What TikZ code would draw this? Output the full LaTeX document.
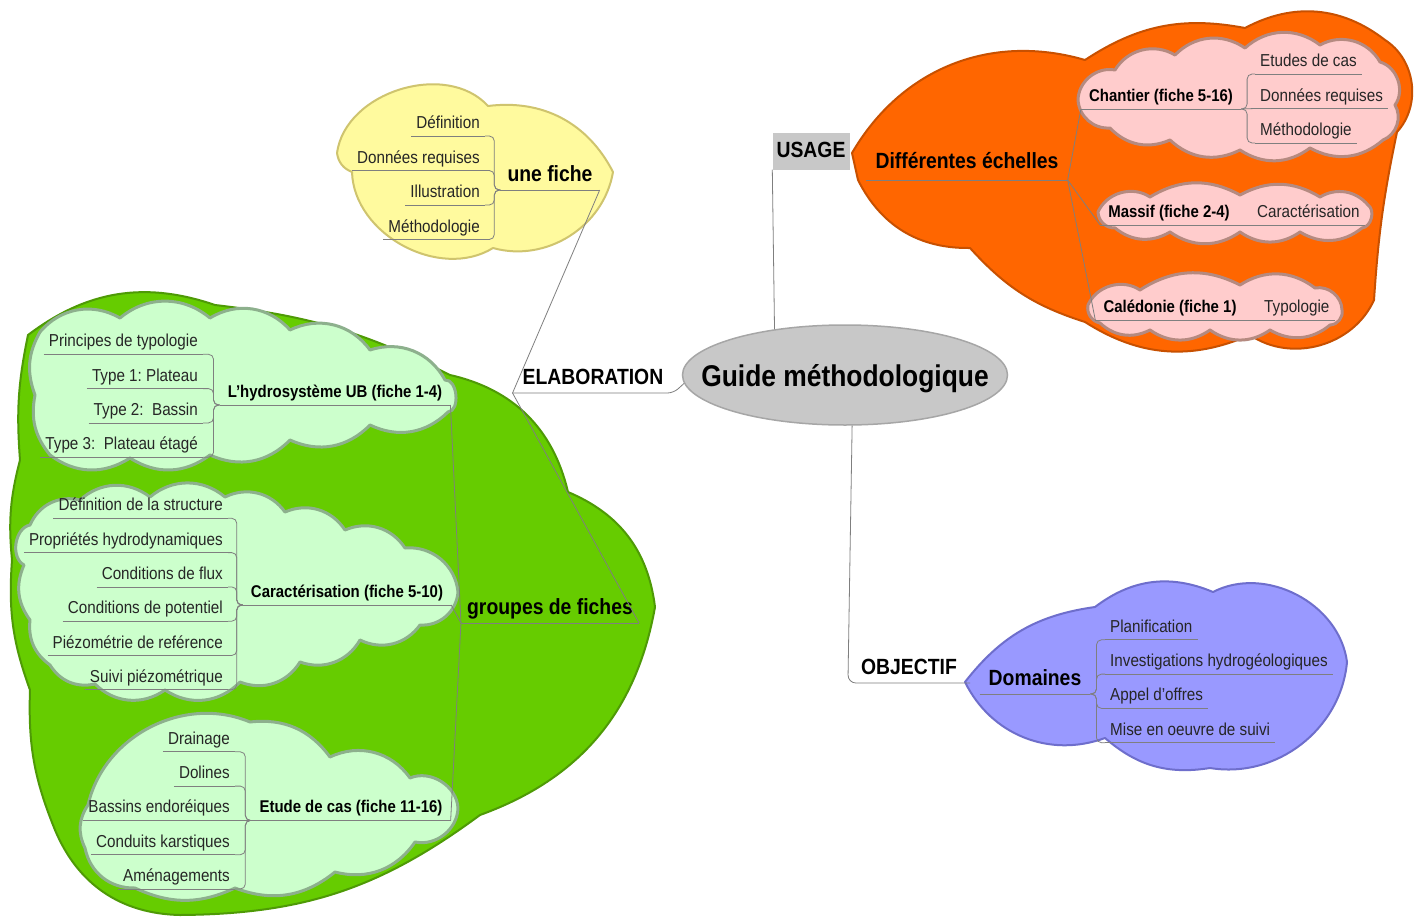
\documentclass[tikz,border=0pt]{standalone}
\usepackage{fontspec}
\setmainfont{Liberation Sans}[FakeStretch=0.88]
\usetikzlibrary{shapes.geometric}
\frenchspacing

\definecolor{linkgray}{HTML}{7F7F7F}
\definecolor{hubfill}{HTML}{C8C8C8}
\definecolor{hubline}{HTML}{A6A6A6}
\definecolor{fichefill}{HTML}{FFFA9E}
\definecolor{ficheline}{HTML}{CFC46E}
\definecolor{orangefill}{HTML}{FF6600}
\definecolor{orangeline}{HTML}{C85000}
\definecolor{pinkfill}{HTML}{FFCCCC}
\definecolor{pinkline}{HTML}{B58A80}
\definecolor{greenfill}{HTML}{66CC00}
\definecolor{greenline}{HTML}{4E9A06}
\definecolor{mintfill}{HTML}{CCFFCC}
\definecolor{mintline}{HTML}{8DB08D}
\definecolor{violetfill}{HTML}{9999FF}
\definecolor{violetline}{HTML}{6E6ECC}

\tikzset{
  yellowcloud/.style={fill=fichefill, draw=ficheline, line width=2pt, line join=round},
  orangecloud/.style={fill=orangefill, draw=orangeline, line width=2pt, line join=round},
  pinkcloud/.style={fill=pinkfill, draw=pinkline, line width=3pt, line join=round},
  greencloud/.style={fill=greenfill, draw=greenline, line width=2pt, line join=round},
  mintcloud/.style={fill=mintfill, draw=mintline, line width=3pt, line join=round},
  violetcloud/.style={fill=violetfill, draw=violetline, line width=2pt, line join=round},
  link/.style={draw=linkgray, line width=0.8pt},
  hub/.style={ellipse, fill=hubfill, draw=hubline, line width=1.5pt, minimum width=325pt,
    minimum height=100pt, inner sep=0pt},
  hubtext/.style={font=\fontsize{30}{34}\selectfont\bfseries},
  topic/.style={font=\fontsize{22}{26}\selectfont\bfseries, inner xsep=7pt, inner ysep=3pt,
    text height=16pt, text depth=5.5pt},
  sub/.style={font=\fontsize{17}{20}\selectfont\bfseries, inner xsep=8pt, inner ysep=3pt,
    text height=12.5pt, text depth=4.3pt},
  leaf/.style={font=\fontsize{17.3}{20}\selectfont, text=black!85, inner xsep=5pt, inner ysep=3pt,
    text height=12.5pt, text depth=4.3pt}
}

\begin{document}
\begin{tikzpicture}[x=1pt,y=-1pt]
\fill[white] (0,0) rectangle (1416,918);
\useasboundingbox (0,0) rectangle (1416,918);

\draw[yellowcloud] (337,153) to[bend left=65] (488,106) to[bend left=35] (613,172) to[bend left=48] (493,248)
  to[bend left=60] (352,172) to[bend left=30] (337,153) -- cycle;
\draw[orangecloud] (852,153) to[bend left=38] (1085,60) to[bend left=22] (1245,28) to[bend left=33] (1385,40)
  to[bend left=50] (1397,132) to[bend left=-4] (1374,300) to[bend left=50] (1250,335) to[bend left=28] (1085,322)
  to[bend left=15] (970,248) to[bend left=32] (858,180) -- cycle;
\draw[greencloud] (28,335) to[bend left=28] (215,305) to[bend left=10] (450,375) to[bend left=32] (568,492)
  to[bend left=30] (655,607) to[bend left=30] (480,815) to[bend left=18] (180,915) to[bend left=33] (55,830)
  to[bend left=12] (30,690) to[bend left=12] (12,560) to[bend left=10] (20,460) to[bend left=8] (28,335) -- cycle;
\draw[violetcloud] (965,682) to[bend left=22] (1095,607) to[bend left=30] (1213,592) to[bend left=55] (1347,662)
  to[bend left=47] (1210,768) to[bend left=25] (1105,738) to[bend left=42] (965,682) -- cycle;

\draw[pinkcloud] (1078,100) to[bend left=50] (1115,70) to[bend left=45] (1175,55) to[bend left=40] (1245,48)
  to[bend left=40] (1320,45) to[bend left=45] (1380,62) to[bend left=55] (1395,105) to[bend left=50] (1383,140)
  to[bend left=35] (1310,148) to[bend left=35] (1240,150) to[bend left=35] (1170,140) to[bend left=35] (1110,128)
  to[bend left=45] (1078,100) -- cycle;
\draw[pinkcloud] (1098,212) to[bend left=50] (1150,197) to[bend left=30] (1240,195) to[bend left=30] (1320,197)
  to[bend left=40] (1368,205) to[bend left=70] (1362,228) to[bend left=35] (1300,232) to[bend left=35] (1240,232)
  to[bend left=35] (1170,232) to[bend left=35] (1115,228) to[bend left=45] (1098,212) -- cycle;
\draw[pinkcloud] (1088,305) to[bend left=50] (1140,290) to[bend left=30] (1240,285) to[bend left=35] (1315,288)
  to[bend left=50] (1342,310) to[bend left=50] (1330,325) to[bend left=35] (1270,330) to[bend left=35] (1210,330)
  to[bend left=35] (1150,330) to[bend left=35] (1100,323) to[bend left=45] (1088,305) -- cycle;

\draw[mintcloud] (40,332) to[bend left=40] (120,318) to[bend left=40] (210,318) to[bend left=40] (290,330)
  to[bend left=40] (370,350) to[bend left=40] (445,380) to[bend left=90] (448,412) to[bend left=35] (370,425)
  to[bend left=35] (290,440) to[bend left=35] (210,455) to[bend left=35] (130,458) to[bend left=35] (50,455)
  to[bend left=25] (35,395) to[bend left=25] (40,332) -- cycle;
\draw[mintcloud] (30,525) to[bend left=40] (80,500) to[bend left=40] (150,497) to[bend left=40] (225,497)
  to[bend left=40] (285,512) to[bend left=40] (345,530) to[bend left=40] (405,548) to[bend left=45] (458,592)
  to[bend left=45] (420,625) to[bend left=40] (360,640) to[bend left=40] (300,662) to[bend left=40] (240,682)
  to[bend left=40] (165,690) to[bend left=40] (95,684) to[bend left=35] (50,665) to[bend left=30] (30,620)
  to[bend left=30] (24,565) to[bend left=70] (30,525) -- cycle;
\draw[mintcloud] (88,805) to[bend left=50] (250,722) to[bend left=30] (330,757) to[bend left=40] (410,778)
  to[bend left=55] (458,808) to[bend left=50] (415,842) to[bend left=35] (335,872) to[bend left=30] (235,888)
  to[bend left=25] (135,888) to[bend left=40] (85,848) to[bend left=30] (88,805) -- cycle;

\node[hub] (central) at (845,375) {};
\node[hubtext] (title) at (845,379) {Guide méthodologique};
\node[topic, anchor=south, inner xsep=10pt] (elab) at (593,393) {ELABORATION};
\node[topic, fill=hubfill, minimum width=77pt, minimum height=37pt, inner sep=0pt, text depth=3pt] (usage) at (811,151) {USAGE};
\node[topic, anchor=south, inner xsep=13pt] (obj) at (909,683) {OBJECTIF};

\node[topic, anchor=south] (fiche) at (550,190) {une fiche};
\foreach \t [count=\i] in {Définition, Données requises, Illustration, Méthodologie}
  \node[leaf, anchor=south east] (f\i) at (485,101.5+34.5*\i) {\t};

\node[topic, anchor=south, inner xsep=9pt, inner ysep=6pt] (echelles) at (967,180) {Différentes échelles};
\node[sub, anchor=south] (chantier) at (1161,109) {Chantier (fiche 5-16)};
\foreach \t [count=\i] in {Etudes de cas, Données requises, Méthodologie}
  \node[leaf, anchor=south west] (c\i) at (1255,39.5+34.5*\i) {\t};
\node[sub, anchor=south] (massif) at (1169,225) {Massif (fiche 2-4)};
\node[leaf, anchor=south west] (mcar) at (1252,225) {Caractérisation};
\node[sub, anchor=south] (caled) at (1170,320) {Calédonie (fiche 1)};
\node[leaf, anchor=south west] (ctyp) at (1259,320) {Typologie};

\node[topic, anchor=south, inner xsep=6pt] (groupes) at (550,623) {groupes de fiches};
\node[sub, anchor=south] (hydro) at (335,405) {L'hydrosystème UB (fiche 1-4)};
\foreach \t [count=\i] in {Principes de typologie, Type 1: Plateau, Type 2:~ Bassin, Type 3:~ Plateau étagé}
  \node[leaf, anchor=south east] (h\i) at (203,320+34.3*\i) {\t};
\node[sub, anchor=south] (caract) at (347,605) {Caractérisation (fiche 5-10)};
\foreach \t [count=\i] in {Définition de la structure, Propriétés hydrodynamiques, Conditions de flux,
    Conditions de potentiel, Piézométrie de reférence, Suivi piézométrique}
  \node[leaf, anchor=south east] (k\i) at (228,484+34.3*\i) {\t};
\node[sub, anchor=south] (etude) at (351,820.4) {Etude de cas (fiche 11-16)};
\foreach \t [count=\i] in {Drainage, Dolines, Bassins endoréiques, Conduits karstiques, Aménagements}
  \node[leaf, anchor=south east] (e\i) at (235,717.5+34.3*\i) {\t};

\node[topic, anchor=south, inner xsep=9pt] (domaines) at (1035,694) {Domaines};
\foreach \t [count=\i] in {Planification, Investigations hydrogéologiques, Appel d'offres, Mise en oeuvre de suivi}
  \node[leaf, anchor=south west] (d\i) at (1105,605.5+34.3*\i) {\t};

\foreach \n in {fiche,f1,f2,f3,f4,echelles,chantier,c1,c2,c3,massif,mcar,caled,ctyp,groupes,hydro,h1,h2,h3,h4,
    caract,k1,k2,k3,k4,k5,k6,etude,e1,e2,e3,e4,e5,domaines,d1,d2,d3,d4}
  \draw[link] (\n.south west) -- (\n.south east);

\draw[link, rounded corners=6pt] (elab.south west) -- (elab.south east) -- (central.183);
\draw[link] (central.147) -- (usage.south west);
\draw[link, rounded corners=8pt] (central.-82) -- (obj.south west) -- (obj.south east);
\draw[link] (elab.south west) -- (fiche.south east);
\draw[link] (elab.south west) -- (groupes.south east);

\foreach \i in {1,...,4}
  \draw[link, rounded corners=5pt] (fiche.south west) -- ++(-6,0) |- (f\i.south east);
\foreach \n in {chantier,massif,caled}
  \draw[link] (echelles.south east) -- (\n.south west);
\foreach \i in {1,3}
  \draw[link, rounded corners=5pt] (chantier.south east) -- ++(6,0) |- (c\i.south west);
\draw[link] (chantier.south east) -- (c2.south west);
\draw[link] (massif.south east) -- (mcar.south west);
\draw[link] (caled.south east) -- (ctyp.south west);

\foreach \n in {hydro,caract,etude}
  \draw[link] (groupes.south west) -- (\n.south east);
\foreach \i in {1,...,4}
  \draw[link, rounded corners=5pt] (hydro.south west) -- ++(-6,0) |- (h\i.south east);
\foreach \i in {1,...,6}
  \draw[link, rounded corners=5pt] (caract.south west) -- ++(-6,0) |- (k\i.south east);
\foreach \i in {1,2,4,5}
  \draw[link, rounded corners=5pt] (etude.south west) -- ++(-6,0) |- (e\i.south east);
\draw[link] (etude.south west) -- (e3.south east);

\foreach \i in {1,...,4}
  \draw[link, rounded corners=5pt] (domaines.south east) -- ++(6,0) |- (d\i.south west);
\end{tikzpicture}
\end{document}
